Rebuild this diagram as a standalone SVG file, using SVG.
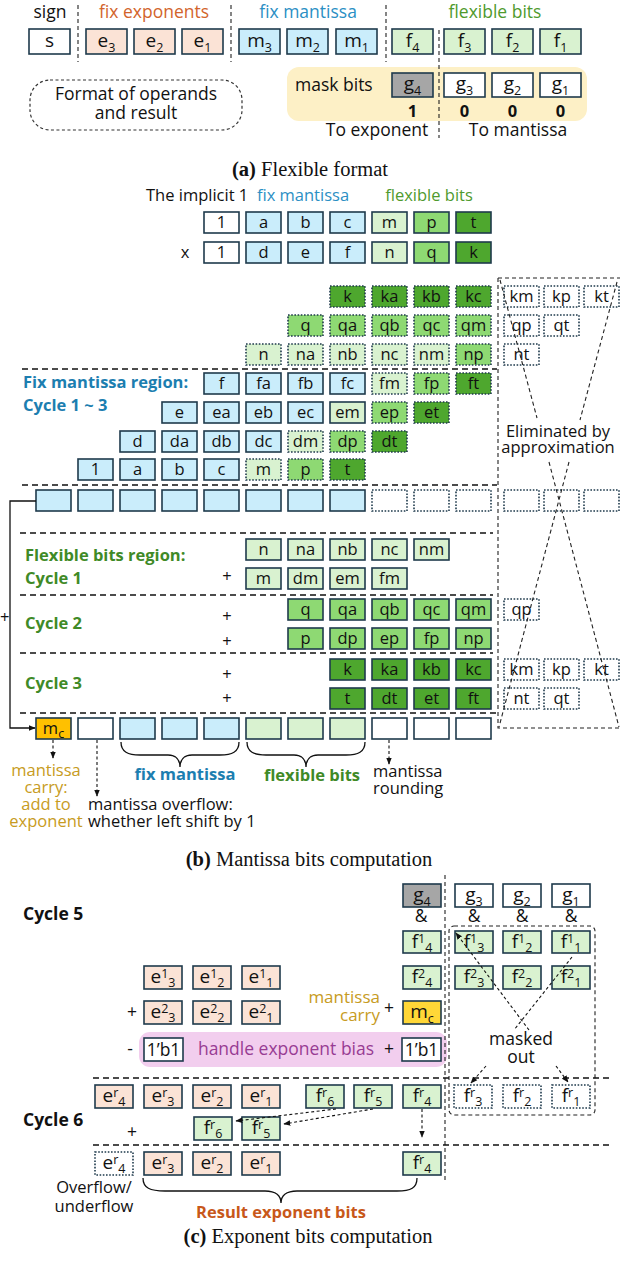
<svg xmlns="http://www.w3.org/2000/svg" width="620" height="1264" viewBox="0 0 620 1264">
<defs>
<marker id="ah" viewBox="0 0 10 10" refX="9" refY="5" markerWidth="7" markerHeight="7" markerUnits="userSpaceOnUse" orient="auto-start-reverse"><path d="M0,1 L10,5 L0,9 z" fill="#111"/></marker>
<style>
.bx{stroke:#1e3a4c;stroke-width:1.6}
.dt{stroke-dasharray:1.6 1.6}
.w{fill:#fff}.pe{fill:#fbe3d6}.bl{fill:#caedfb}.lg{fill:#d9f2d0}.mg{fill:#8ed973}.dg{fill:#4ea72e}.gr{fill:#a6a6a6}.au{fill:#ffc000}.au2{fill:#ffd737}
text{font-family:"Open Sans","Liberation Sans",sans-serif;fill:#111}
.c{text-anchor:middle}
.e{text-anchor:end}
.s16{font-size:16.5px}
.s19{font-size:19px}
.sub{font-size:12.5px}
.lb{font-size:17.5px}
.sep{stroke:#111;stroke-width:1.6;stroke-dasharray:6 4;fill:none}
.thin{stroke:#222;stroke-width:1.1;stroke-dasharray:4 3;fill:none}
.ln{stroke:#111;stroke-width:1.3;fill:none}
.da{stroke:#111;stroke-width:1.1;stroke-dasharray:3 2.5;fill:none}
.cap{font-family:"Liberation Serif",serif;font-size:20.5px}
.or{fill:#d2642c}.blt{fill:#2b8fc4}.grt{fill:#4f9a2e}.bb{fill:#1c7eb0;font-weight:bold}.gb{fill:#3f8a27;font-weight:bold}.gold{fill:#c79b22}.pur{fill:#983c93}
.bold{font-weight:bold}
</style>
</defs>
<rect width="620" height="1264" fill="#fff"/>

<!-- ===== (a) ===== -->
<g id="a-labels">
<text class="c lb" x="50" y="18">sign</text>
<text class="c lb or" x="154" y="18">fix exponents</text>
<text class="c lb blt" x="308" y="18">fix mantissa</text>
<text class="c lb grt" x="495" y="18">flexible bits</text>
</g>
<g id="a-mask-area"><rect x="287" y="67" width="300" height="54" rx="12" fill="#fdf0c6"/>
<text class="lb" x="295" y="91">mask bits</text></g>
<g id="a-format"><rect x="30" y="80" width="212" height="50" rx="20" fill="none" stroke="#333" stroke-width="1.2" stroke-dasharray="3 2.5"/>
<text class="c lb" x="136" y="100">Format of operands</text><text class="c lb" x="136" y="119">and result</text></g>
<g id="a-s"><rect class="bx w" x="29" y="29" width="41" height="25"/><text class="c s19" x="49.5" y="47">s</text></g>
<g id="a-e3"><rect class="bx pe" x="86" y="29" width="41" height="25"/><text class="c s19" x="106.5" y="47">e<tspan class="sub" dy="5">3</tspan></text></g>
<g id="a-e2"><rect class="bx pe" x="134" y="29" width="41" height="25"/><text class="c s19" x="154.5" y="47">e<tspan class="sub" dy="5">2</tspan></text></g>
<g id="a-e1"><rect class="bx pe" x="182" y="29" width="41" height="25"/><text class="c s19" x="202.5" y="47">e<tspan class="sub" dy="5">1</tspan></text></g>
<g id="a-m3"><rect class="bx bl" x="239" y="29" width="41" height="25"/><text class="c s19" x="259.5" y="47">m<tspan class="sub" dy="5">3</tspan></text></g>
<g id="a-m2"><rect class="bx bl" x="287" y="29" width="41" height="25"/><text class="c s19" x="307.5" y="47">m<tspan class="sub" dy="5">2</tspan></text></g>
<g id="a-m1"><rect class="bx bl" x="336" y="29" width="41" height="25"/><text class="c s19" x="356.5" y="47">m<tspan class="sub" dy="5">1</tspan></text></g>
<g id="a-f4"><rect class="bx lg" x="392" y="29" width="41" height="25"/><text class="c s19" x="412.5" y="47">f<tspan class="sub" dy="5">4</tspan></text></g>
<g id="a-f3"><rect class="bx lg" x="444" y="29" width="41" height="25"/><text class="c s19" x="464.5" y="47">f<tspan class="sub" dy="5">3</tspan></text></g>
<g id="a-f2"><rect class="bx lg" x="492" y="29" width="41" height="25"/><text class="c s19" x="512.5" y="47">f<tspan class="sub" dy="5">2</tspan></text></g>
<g id="a-f1"><rect class="bx lg" x="540" y="29" width="41" height="25"/><text class="c s19" x="560.5" y="47">f<tspan class="sub" dy="5">1</tspan></text></g>
<g id="a-g4"><rect class="bx gr" x="392" y="73" width="41" height="24"/><text class="c s19" x="412.5" y="90">g<tspan class="sub" dy="5">4</tspan></text></g>
<g id="a-g3"><rect class="bx w" x="444" y="73" width="41" height="24"/><text class="c s19" x="464.5" y="90">g<tspan class="sub" dy="5">3</tspan></text></g>
<g id="a-g2"><rect class="bx w" x="492" y="73" width="41" height="24"/><text class="c s19" x="512.5" y="90">g<tspan class="sub" dy="5">2</tspan></text></g>
<g id="a-g1"><rect class="bx w" x="540" y="73" width="41" height="24"/><text class="c s19" x="560.5" y="90">g<tspan class="sub" dy="5">1</tspan></text></g>
<g id="a-bits">
<text class="c s16 bold" x="412.5" y="117">1</text><text class="c s16 bold" x="464.5" y="117">0</text><text class="c s16 bold" x="512.5" y="117">0</text><text class="c s16 bold" x="560.5" y="117">0</text>
<text class="c lb" x="377" y="136">To exponent</text><text class="c lb" x="518" y="136">To mantissa</text>
</g>
<text class="cap c" x="310" y="176"><tspan font-weight="bold">(a)</tspan> Flexible format</text>

<!-- ===== (b) ===== -->
<g id="b-labels">
<text class="s16" x="146" y="201">The implicit 1</text>
<text class="c s16 blt" x="303" y="201">fix mantissa</text>
<text class="c s16 grt" x="429" y="201">flexible bits</text>
<text class="c s16" x="185" y="258">x</text>
<text class="s16 bb" x="23" y="388">Fix mantissa region:</text>
<text class="s16 bb" x="23" y="411">Cycle 1 ~ 3</text>
<text class="s16 gb" x="25" y="561">Flexible bits region:</text>
<text class="s16 gb" x="25" y="584">Cycle 1</text>
<text class="s16 gb" x="25" y="629">Cycle 2</text>
<text class="s16 gb" x="25" y="689">Cycle 3</text>
<text class="c s16" x="227" y="582">+</text>
<text class="c s16" x="227" y="622">+</text>
<text class="c s16" x="227" y="647">+</text>
<text class="c s16" x="227" y="680">+</text>
<text class="c s16" x="227" y="704">+</text>
<text class="s16" x="0" y="623">+</text>
<text class="s16" x="558" y="437" text-anchor="middle">Eliminated by</text>
<text class="s16" x="558" y="453" text-anchor="middle">approximation</text>
</g>
<!-- operands -->
<g id="b-op1">
<rect class="bx w" x="204" y="212" width="35" height="21"/><text class="c s16" x="221.5" y="228">1</text>
<rect class="bx bl" x="246" y="212" width="35" height="21"/><text class="c s16" x="263.5" y="228">a</text>
<rect class="bx bl" x="288" y="212" width="35" height="21"/><text class="c s16" x="305.5" y="228">b</text>
<rect class="bx bl" x="330" y="212" width="35" height="21"/><text class="c s16" x="347.5" y="228">c</text>
<rect class="bx lg" x="372" y="212" width="35" height="21"/><text class="c s16" x="389.5" y="228">m</text>
<rect class="bx mg" x="414" y="212" width="35" height="21"/><text class="c s16" x="431.5" y="228">p</text>
<rect class="bx dg" x="456" y="212" width="35" height="21"/><text class="c s16" x="473.5" y="228">t</text>
</g>
<g id="b-op2">
<rect class="bx w" x="204" y="242" width="35" height="21"/><text class="c s16" x="221.5" y="258">1</text>
<rect class="bx bl" x="246" y="242" width="35" height="21"/><text class="c s16" x="263.5" y="258">d</text>
<rect class="bx bl" x="288" y="242" width="35" height="21"/><text class="c s16" x="305.5" y="258">e</text>
<rect class="bx bl" x="330" y="242" width="35" height="21"/><text class="c s16" x="347.5" y="258">f</text>
<rect class="bx lg" x="372" y="242" width="35" height="21"/><text class="c s16" x="389.5" y="258">n</text>
<rect class="bx mg" x="414" y="242" width="35" height="21"/><text class="c s16" x="431.5" y="258">q</text>
<rect class="bx dg" x="456" y="242" width="35" height="21"/><text class="c s16" x="473.5" y="258">k</text>
</g>
<!-- partial products -->
<g id="b-pp-k">
<rect class="bx dg dt" x="330" y="286" width="35" height="21"/><text class="c s16" x="347.5" y="302">k</text>
<rect class="bx dg dt" x="372" y="286" width="35" height="21"/><text class="c s16" x="389.5" y="302">ka</text>
<rect class="bx dg dt" x="414" y="286" width="35" height="21"/><text class="c s16" x="431.5" y="302">kb</text>
<rect class="bx dg dt" x="456" y="286" width="35" height="21"/><text class="c s16" x="473.5" y="302">kc</text>
<rect class="bx w dt" x="504" y="286" width="35" height="21"/><text class="c s16" x="521.5" y="302">km</text>
<rect class="bx w dt" x="544" y="286" width="35" height="21"/><text class="c s16" x="561.5" y="302">kp</text>
<rect class="bx w dt" x="584" y="286" width="35" height="21"/><text class="c s16" x="601.5" y="302">kt</text>
</g>
<g id="b-pp-q">
<rect class="bx mg dt" x="288" y="315" width="35" height="21"/><text class="c s16" x="305.5" y="331">q</text>
<rect class="bx mg dt" x="330" y="315" width="35" height="21"/><text class="c s16" x="347.5" y="331">qa</text>
<rect class="bx mg dt" x="372" y="315" width="35" height="21"/><text class="c s16" x="389.5" y="331">qb</text>
<rect class="bx mg dt" x="414" y="315" width="35" height="21"/><text class="c s16" x="431.5" y="331">qc</text>
<rect class="bx mg dt" x="456" y="315" width="35" height="21"/><text class="c s16" x="473.5" y="331">qm</text>
<rect class="bx w dt" x="504" y="315" width="35" height="21"/><text class="c s16" x="521.5" y="331">qp</text>
<rect class="bx w dt" x="544" y="315" width="35" height="21"/><text class="c s16" x="561.5" y="331">qt</text>
</g>
<g id="b-pp-n">
<rect class="bx lg dt" x="246" y="344" width="35" height="21"/><text class="c s16" x="263.5" y="360">n</text>
<rect class="bx lg dt" x="288" y="344" width="35" height="21"/><text class="c s16" x="305.5" y="360">na</text>
<rect class="bx lg dt" x="330" y="344" width="35" height="21"/><text class="c s16" x="347.5" y="360">nb</text>
<rect class="bx lg dt" x="372" y="344" width="35" height="21"/><text class="c s16" x="389.5" y="360">nc</text>
<rect class="bx lg dt" x="414" y="344" width="35" height="21"/><text class="c s16" x="431.5" y="360">nm</text>
<rect class="bx mg dt" x="456" y="344" width="35" height="21"/><text class="c s16" x="473.5" y="360">np</text>
<rect class="bx w dt" x="504" y="344" width="35" height="21"/><text class="c s16" x="521.5" y="360">nt</text>
</g>
<g id="b-pp-f">
<rect class="bx bl" x="204" y="373" width="35" height="21"/><text class="c s16" x="221.5" y="389">f</text>
<rect class="bx bl" x="246" y="373" width="35" height="21"/><text class="c s16" x="263.5" y="389">fa</text>
<rect class="bx bl" x="288" y="373" width="35" height="21"/><text class="c s16" x="305.5" y="389">fb</text>
<rect class="bx bl" x="330" y="373" width="35" height="21"/><text class="c s16" x="347.5" y="389">fc</text>
<rect class="bx lg dt" x="372" y="373" width="35" height="21"/><text class="c s16" x="389.5" y="389">fm</text>
<rect class="bx mg dt" x="414" y="373" width="35" height="21"/><text class="c s16" x="431.5" y="389">fp</text>
<rect class="bx dg dt" x="456" y="373" width="35" height="21"/><text class="c s16" x="473.5" y="389">ft</text>
</g>
<g id="b-pp-e">
<rect class="bx bl" x="162" y="402" width="35" height="21"/><text class="c s16" x="179.5" y="418">e</text>
<rect class="bx bl" x="204" y="402" width="35" height="21"/><text class="c s16" x="221.5" y="418">ea</text>
<rect class="bx bl" x="246" y="402" width="35" height="21"/><text class="c s16" x="263.5" y="418">eb</text>
<rect class="bx bl" x="288" y="402" width="35" height="21"/><text class="c s16" x="305.5" y="418">ec</text>
<rect class="bx lg" x="330" y="402" width="35" height="21"/><text class="c s16" x="347.5" y="418">em</text>
<rect class="bx mg dt" x="372" y="402" width="35" height="21"/><text class="c s16" x="389.5" y="418">ep</text>
<rect class="bx dg dt" x="414" y="402" width="35" height="21"/><text class="c s16" x="431.5" y="418">et</text>
</g>
<g id="b-pp-d">
<rect class="bx bl" x="120" y="431" width="35" height="21"/><text class="c s16" x="137.5" y="447">d</text>
<rect class="bx bl" x="162" y="431" width="35" height="21"/><text class="c s16" x="179.5" y="447">da</text>
<rect class="bx bl" x="204" y="431" width="35" height="21"/><text class="c s16" x="221.5" y="447">db</text>
<rect class="bx bl" x="246" y="431" width="35" height="21"/><text class="c s16" x="263.5" y="447">dc</text>
<rect class="bx lg dt" x="288" y="431" width="35" height="21"/><text class="c s16" x="305.5" y="447">dm</text>
<rect class="bx mg dt" x="330" y="431" width="35" height="21"/><text class="c s16" x="347.5" y="447">dp</text>
<rect class="bx dg dt" x="372" y="431" width="35" height="21"/><text class="c s16" x="389.5" y="447">dt</text>
</g>
<g id="b-pp-1">
<rect class="bx bl" x="78" y="459" width="35" height="21"/><text class="c s16" x="95.5" y="475">1</text>
<rect class="bx bl" x="120" y="459" width="35" height="21"/><text class="c s16" x="137.5" y="475">a</text>
<rect class="bx bl" x="162" y="459" width="35" height="21"/><text class="c s16" x="179.5" y="475">b</text>
<rect class="bx bl" x="204" y="459" width="35" height="21"/><text class="c s16" x="221.5" y="475">c</text>
<rect class="bx lg dt" x="246" y="459" width="35" height="21"/><text class="c s16" x="263.5" y="475">m</text>
<rect class="bx mg dt" x="288" y="459" width="35" height="21"/><text class="c s16" x="305.5" y="475">p</text>
<rect class="bx dg dt" x="330" y="459" width="35" height="21"/><text class="c s16" x="347.5" y="475">t</text>
</g>
<g id="b-acc">
<rect class="bx bl" x="36" y="490" width="35" height="21"/>
<rect class="bx bl" x="78" y="490" width="35" height="21"/>
<rect class="bx bl" x="120" y="490" width="35" height="21"/>
<rect class="bx bl" x="162" y="490" width="35" height="21"/>
<rect class="bx bl" x="204" y="490" width="35" height="21"/>
<rect class="bx bl" x="246" y="490" width="35" height="21"/>
<rect class="bx bl" x="288" y="490" width="35" height="21"/>
<rect class="bx bl" x="330" y="490" width="35" height="21"/>
<rect class="bx w dt" x="372" y="490" width="35" height="21"/>
<rect class="bx w dt" x="414" y="490" width="35" height="21"/>
<rect class="bx w dt" x="456" y="490" width="35" height="21"/>
<rect class="bx w dt" x="504" y="490" width="35" height="21"/>
<rect class="bx w dt" x="544" y="490" width="35" height="21"/>
<rect class="bx w dt" x="584" y="490" width="35" height="21"/>
</g>
<g id="b-c1-n">
<rect class="bx lg" x="246" y="539" width="35" height="21"/><text class="c s16" x="263.5" y="555">n</text>
<rect class="bx lg" x="288" y="539" width="35" height="21"/><text class="c s16" x="305.5" y="555">na</text>
<rect class="bx lg" x="330" y="539" width="35" height="21"/><text class="c s16" x="347.5" y="555">nb</text>
<rect class="bx lg" x="372" y="539" width="35" height="21"/><text class="c s16" x="389.5" y="555">nc</text>
<rect class="bx lg" x="414" y="539" width="35" height="21"/><text class="c s16" x="431.5" y="555">nm</text>
</g>
<g id="b-c1-m">
<rect class="bx lg" x="246" y="568" width="35" height="21"/><text class="c s16" x="263.5" y="584">m</text>
<rect class="bx lg" x="288" y="568" width="35" height="21"/><text class="c s16" x="305.5" y="584">dm</text>
<rect class="bx lg" x="330" y="568" width="35" height="21"/><text class="c s16" x="347.5" y="584">em</text>
<rect class="bx lg" x="372" y="568" width="35" height="21"/><text class="c s16" x="389.5" y="584">fm</text>
</g>
<g id="b-c2-q">
<rect class="bx mg" x="288" y="599" width="35" height="21"/><text class="c s16" x="305.5" y="615">q</text>
<rect class="bx mg" x="330" y="599" width="35" height="21"/><text class="c s16" x="347.5" y="615">qa</text>
<rect class="bx mg" x="372" y="599" width="35" height="21"/><text class="c s16" x="389.5" y="615">qb</text>
<rect class="bx mg" x="414" y="599" width="35" height="21"/><text class="c s16" x="431.5" y="615">qc</text>
<rect class="bx mg" x="456" y="599" width="35" height="21"/><text class="c s16" x="473.5" y="615">qm</text>
<rect class="bx w dt" x="504" y="599" width="35" height="21"/><text class="c s16" x="521.5" y="615">qp</text>
</g>
<g id="b-c2-p">
<rect class="bx mg" x="288" y="628" width="35" height="21"/><text class="c s16" x="305.5" y="644">p</text>
<rect class="bx mg" x="330" y="628" width="35" height="21"/><text class="c s16" x="347.5" y="644">dp</text>
<rect class="bx mg" x="372" y="628" width="35" height="21"/><text class="c s16" x="389.5" y="644">ep</text>
<rect class="bx mg" x="414" y="628" width="35" height="21"/><text class="c s16" x="431.5" y="644">fp</text>
<rect class="bx mg" x="456" y="628" width="35" height="21"/><text class="c s16" x="473.5" y="644">np</text>
</g>
<g id="b-c3-k">
<rect class="bx dg" x="330" y="659" width="35" height="21"/><text class="c s16" x="347.5" y="675">k</text>
<rect class="bx dg" x="372" y="659" width="35" height="21"/><text class="c s16" x="389.5" y="675">ka</text>
<rect class="bx dg" x="414" y="659" width="35" height="21"/><text class="c s16" x="431.5" y="675">kb</text>
<rect class="bx dg" x="456" y="659" width="35" height="21"/><text class="c s16" x="473.5" y="675">kc</text>
<rect class="bx w dt" x="504" y="659" width="35" height="21"/><text class="c s16" x="521.5" y="675">km</text>
<rect class="bx w dt" x="544" y="659" width="35" height="21"/><text class="c s16" x="561.5" y="675">kp</text>
<rect class="bx w dt" x="584" y="659" width="35" height="21"/><text class="c s16" x="601.5" y="675">kt</text>
</g>
<g id="b-c3-t">
<rect class="bx dg" x="330" y="688" width="35" height="21"/><text class="c s16" x="347.5" y="704">t</text>
<rect class="bx dg" x="372" y="688" width="35" height="21"/><text class="c s16" x="389.5" y="704">dt</text>
<rect class="bx dg" x="414" y="688" width="35" height="21"/><text class="c s16" x="431.5" y="704">et</text>
<rect class="bx dg" x="456" y="688" width="35" height="21"/><text class="c s16" x="473.5" y="704">ft</text>
<rect class="bx w dt" x="504" y="688" width="35" height="21"/><text class="c s16" x="521.5" y="704">nt</text>
<rect class="bx w dt" x="544" y="688" width="35" height="21"/><text class="c s16" x="561.5" y="704">qt</text>
</g>
<g id="b-result">
<rect class="bx au" x="36" y="718" width="35" height="21"/><text class="c s16" x="53.5" y="734">m<tspan class="sub" dy="4">c</tspan></text>
<rect class="bx w" x="78" y="718" width="35" height="21"/>
<rect class="bx bl" x="120" y="718" width="35" height="21"/>
<rect class="bx bl" x="162" y="718" width="35" height="21"/>
<rect class="bx bl" x="204" y="718" width="35" height="21"/>
<rect class="bx lg" x="246" y="718" width="35" height="21"/>
<rect class="bx lg" x="288" y="718" width="35" height="21"/>
<rect class="bx lg" x="330" y="718" width="35" height="21"/>
<rect class="bx w" x="372" y="718" width="35" height="21"/>
<rect class="bx w" x="414" y="718" width="35" height="21"/>
<rect class="bx w" x="456" y="718" width="35" height="21"/>
</g>
<g id="b-bottom-labels">
<text class="c s16 gold" x="46" y="776">mantissa</text>
<text class="c s16 gold" x="46" y="793">carry:</text>
<text class="c s16 gold" x="46" y="810">add to</text>
<text class="c s16 gold" x="46" y="827">exponent</text>
<text class="s16" x="88" y="810">mantissa overflow:</text>
<text class="s16" x="88" y="827">whether left shift by 1</text>
<text class="c s16 bb" x="185" y="780">fix mantissa</text>
<text class="c s16 gb" x="312" y="781">flexible bits</text>
<text class="s16" x="373" y="777">mantissa</text>
<text class="s16" x="373" y="794">rounding</text>
</g>
<text class="cap c" x="309" y="866"><tspan font-weight="bold">(b)</tspan> Mantissa bits computation</text>

<!-- ===== (c) ===== -->
<g id="c-labels">
<text class="lb bold" x="23" y="920">Cycle 5</text>
<text class="lb bold" x="23" y="1126">Cycle 6</text>
<text class="c lb" x="132" y="1018">+</text>
<text class="e gold" x="380" y="1003" style="font-size:17px">mantissa</text>
<text class="e gold" x="380" y="1021" style="font-size:17px">carry</text>
<text class="c lb" x="389" y="1014">+</text>
<text class="c lb" x="132" y="1138">+</text>
<text class="c lb" x="521" y="1045">masked</text>
<text class="c lb" x="521" y="1063">out</text>
<text class="c s16" x="94" y="1193">Overflow/</text>
<text class="c s16" x="94" y="1212">underflow</text>
<text class="c s16 bold" x="281" y="1218" style="fill:#c8581a">Result exponent bits</text>
<text class="c lb" x="421" y="922">&amp;</text><text class="c lb" x="474" y="922">&amp;</text><text class="c lb" x="522" y="922">&amp;</text><text class="c lb" x="571" y="922">&amp;</text>
</g>
<g id="c-bias"><rect x="139" y="1032" width="308" height="35" rx="11" fill="#f2ceee"/>
<text class="c lb" x="130" y="1055">-</text>
<rect class="bx w" x="144" y="1038" width="39" height="23"/><text class="c lb" x="163.5" y="1056">1’b1</text>
<text class="c lb pur" x="286" y="1055">handle exponent bias</text>
<text class="c lb" x="389" y="1055">+</text>
<rect class="bx w" x="402" y="1038" width="39" height="23"/><text class="c lb" x="421.5" y="1056">1’b1</text>
</g>
<g id="c-g">
<rect class="bx gr" x="403" y="884" width="38" height="23"/><text class="c s19" x="422" y="901">g<tspan class="sub" dy="5">4</tspan></text>
<rect class="bx w" x="455" y="884" width="38" height="23"/><text class="c s19" x="474" y="901">g<tspan class="sub" dy="5">3</tspan></text>
<rect class="bx w" x="503" y="884" width="38" height="23"/><text class="c s19" x="522" y="901">g<tspan class="sub" dy="5">2</tspan></text>
<rect class="bx w" x="552" y="884" width="38" height="23"/><text class="c s19" x="571" y="901">g<tspan class="sub" dy="5">1</tspan></text>
</g>
<g id="c-f1">
<rect class="bx lg" x="403" y="931" width="38" height="22"/><text class="c s19" x="422" y="948">f<tspan class="sub" dy="-5">1</tspan><tspan class="sub" dy="9">4</tspan></text>
<rect class="bx lg" x="455" y="931" width="38" height="22"/><text class="c s19" x="474" y="948">f<tspan class="sub" dy="-5">1</tspan><tspan class="sub" dy="9">3</tspan></text>
<rect class="bx lg" x="503" y="931" width="38" height="22"/><text class="c s19" x="522" y="948">f<tspan class="sub" dy="-5">1</tspan><tspan class="sub" dy="9">2</tspan></text>
<rect class="bx lg" x="552" y="931" width="38" height="22"/><text class="c s19" x="571" y="948">f<tspan class="sub" dy="-5">1</tspan><tspan class="sub" dy="9">1</tspan></text>
</g>
<g id="c-f2">
<rect class="bx lg" x="403" y="966" width="38" height="23"/><text class="c s19" x="422" y="983">f<tspan class="sub" dy="-5">2</tspan><tspan class="sub" dy="9">4</tspan></text>
<rect class="bx lg" x="455" y="966" width="38" height="23"/><text class="c s19" x="474" y="983">f<tspan class="sub" dy="-5">2</tspan><tspan class="sub" dy="9">3</tspan></text>
<rect class="bx lg" x="503" y="966" width="38" height="23"/><text class="c s19" x="522" y="983">f<tspan class="sub" dy="-5">2</tspan><tspan class="sub" dy="9">2</tspan></text>
<rect class="bx lg" x="552" y="966" width="38" height="23"/><text class="c s19" x="571" y="983">f<tspan class="sub" dy="-5">2</tspan><tspan class="sub" dy="9">1</tspan></text>
</g>
<g id="c-e1">
<rect class="bx pe" x="144" y="966" width="38" height="23"/><text class="c s19" x="163" y="983">e<tspan class="sub" dy="-5">1</tspan><tspan class="sub" dy="9">3</tspan></text>
<rect class="bx pe" x="193" y="966" width="38" height="23"/><text class="c s19" x="212" y="983">e<tspan class="sub" dy="-5">1</tspan><tspan class="sub" dy="9">2</tspan></text>
<rect class="bx pe" x="242" y="966" width="38" height="23"/><text class="c s19" x="261" y="983">e<tspan class="sub" dy="-5">1</tspan><tspan class="sub" dy="9">1</tspan></text>
</g>
<g id="c-e2">
<rect class="bx pe" x="144" y="1001" width="38" height="23"/><text class="c s19" x="163" y="1018">e<tspan class="sub" dy="-5">2</tspan><tspan class="sub" dy="9">3</tspan></text>
<rect class="bx pe" x="193" y="1001" width="38" height="23"/><text class="c s19" x="212" y="1018">e<tspan class="sub" dy="-5">2</tspan><tspan class="sub" dy="9">2</tspan></text>
<rect class="bx pe" x="242" y="1001" width="38" height="23"/><text class="c s19" x="261" y="1018">e<tspan class="sub" dy="-5">2</tspan><tspan class="sub" dy="9">1</tspan></text>
</g>
<g id="c-mc"><rect class="bx au2" x="403" y="1001" width="38" height="23"/><text class="c s19" x="422" y="1018">m<tspan class="sub" dy="5">c</tspan></text></g>
<g id="c-r1">
<rect class="bx pe" x="95" y="1085" width="38" height="23"/><text class="c s19" x="114" y="1102">e<tspan class="sub" dy="-5">r</tspan><tspan class="sub" dy="9">4</tspan></text>
<rect class="bx pe" x="144" y="1085" width="38" height="23"/><text class="c s19" x="163" y="1102">e<tspan class="sub" dy="-5">r</tspan><tspan class="sub" dy="9">3</tspan></text>
<rect class="bx pe" x="193" y="1085" width="38" height="23"/><text class="c s19" x="212" y="1102">e<tspan class="sub" dy="-5">r</tspan><tspan class="sub" dy="9">2</tspan></text>
<rect class="bx pe" x="242" y="1085" width="38" height="23"/><text class="c s19" x="261" y="1102">e<tspan class="sub" dy="-5">r</tspan><tspan class="sub" dy="9">1</tspan></text>
<rect class="bx lg" x="306" y="1085" width="38" height="23"/><text class="c s19" x="325" y="1102">f<tspan class="sub" dy="-5">r</tspan><tspan class="sub" dy="9">6</tspan></text>
<rect class="bx lg" x="354" y="1085" width="38" height="23"/><text class="c s19" x="373" y="1102">f<tspan class="sub" dy="-5">r</tspan><tspan class="sub" dy="9">5</tspan></text>
<rect class="bx lg" x="403" y="1085" width="38" height="23"/><text class="c s19" x="422" y="1102">f<tspan class="sub" dy="-5">r</tspan><tspan class="sub" dy="9">4</tspan></text>
<rect class="bx w dt" x="454" y="1085" width="38" height="23"/><text class="c s19" x="473" y="1102">f<tspan class="sub" dy="-5">r</tspan><tspan class="sub" dy="9">3</tspan></text>
<rect class="bx w dt" x="503" y="1085" width="38" height="23"/><text class="c s19" x="522" y="1102">f<tspan class="sub" dy="-5">r</tspan><tspan class="sub" dy="9">2</tspan></text>
<rect class="bx w dt" x="552" y="1085" width="38" height="23"/><text class="c s19" x="571" y="1102">f<tspan class="sub" dy="-5">r</tspan><tspan class="sub" dy="9">1</tspan></text>
</g>
<g id="c-r2">
<rect class="bx lg" x="194" y="1117" width="38" height="23"/><text class="c s19" x="213" y="1134">f<tspan class="sub" dy="-5">r</tspan><tspan class="sub" dy="9">6</tspan></text>
<rect class="bx lg" x="242" y="1117" width="38" height="23"/><text class="c s19" x="261" y="1134">f<tspan class="sub" dy="-5">r</tspan><tspan class="sub" dy="9">5</tspan></text>
</g>
<g id="c-r3">
<rect class="bx w dt" x="95" y="1152" width="38" height="23"/><text class="c s19" x="114" y="1169">e<tspan class="sub" dy="-5">r</tspan><tspan class="sub" dy="9">4</tspan></text>
<rect class="bx pe" x="144" y="1152" width="38" height="23"/><text class="c s19" x="163" y="1169">e<tspan class="sub" dy="-5">r</tspan><tspan class="sub" dy="9">3</tspan></text>
<rect class="bx pe" x="193" y="1152" width="38" height="23"/><text class="c s19" x="212" y="1169">e<tspan class="sub" dy="-5">r</tspan><tspan class="sub" dy="9">2</tspan></text>
<rect class="bx pe" x="242" y="1152" width="38" height="23"/><text class="c s19" x="261" y="1169">e<tspan class="sub" dy="-5">r</tspan><tspan class="sub" dy="9">1</tspan></text>
<rect class="bx lg" x="403" y="1152" width="38" height="23"/><text class="c s19" x="422" y="1169">f<tspan class="sub" dy="-5">r</tspan><tspan class="sub" dy="9">4</tspan></text>
</g>
<text class="cap c" x="308" y="1243"><tspan font-weight="bold">(c)</tspan> Exponent bits computation</text>

<!-- ===== connectors & lines ===== -->
<g id="connectors">
<path class="thin" d="M78,5 V62 M231,5 V62 M386,5 V62 M439,30 V138"/>
<path class="sep" d="M22,369 H497 M22,485 H497 M20,533 H493 M20,595 H493 M20,653 H493 M20,713 H498"/>
<path class="thin" d="M498,278 H620 M498,278 V728 H620"/>
<path class="thin" d="M500,280 L537,418 M549,462 L619,727 M617,282 L580,420 M569,462 L499,727"/>
<path class="ln" d="M36,501 H10 V728 H35" marker-end="url(#ah)"/>
<path class="da" d="M53,740 V758" marker-end="url(#ah)"/>
<path class="da" d="M97,740 V796" marker-end="url(#ah)"/>
<path class="da" d="M389,740 V764" marker-end="url(#ah)"/>
<path class="ln" d="M121,742 C121,752 128,755 140,755 L168,755 C176,755 180,760 180,767 C180,760 184,755 192,755 L220,755 C232,755 239,752 239,742"/>
<path class="ln" d="M247,742 C247,752 254,755 266,755 L294,755 C302,755 306,760 306,767 C306,760 310,755 318,755 L346,755 C358,755 365,752 365,742"/>
<path class="ln" d="M143,1178 C143,1188 150,1191 165,1191 L265,1191 C276,1191 281,1196 281,1203 C281,1196 286,1191 297,1191 L397,1191 C411,1191 417,1188 417,1178"/>
<path class="thin" d="M445,875 V1182"/>
<rect class="thin" x="449" y="926" width="146" height="189" rx="5"/>
<path class="sep" d="M93,1078 H609 M93,1145 H609"/>
<path class="da" d="M529,1030 L456,933" marker-end="url(#ah)"/>
<path class="da" d="M556,1066 L568,1082" marker-end="url(#ah)"/>
<path class="da" d="M572,957 L514,1030"/>
<path class="da" d="M486,1066 L471,1083" marker-end="url(#ah)"/>
<path class="da" d="M336,1109 L236,1121" marker-end="url(#ah)"/>
<path class="da" d="M373,1109 L284,1124" marker-end="url(#ah)"/>
<path class="da" d="M422,1109 V1137" marker-end="url(#ah)"/>
</g>
</svg>
